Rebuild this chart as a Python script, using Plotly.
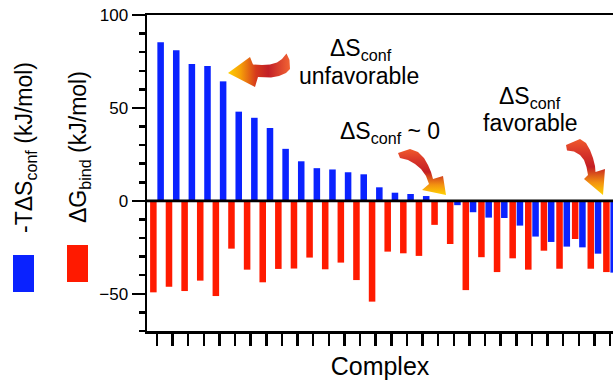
import plotly.graph_objects as go

# ---------------- data ----------------
complexes = list(range(30))
dg_bind = [-49.2, -46.2, -48.5, -42.9, -51.2, -25.7, -37.0, -43.8, -36.6, -36.4,
           -30.5, -36.8, -33.2, -42.6, -54.2, -27.3, -28.2, -29.6, -12.9, -23.2,
           -48.0, -30.3, -38.3, -30.9, -37.0, -26.8, -36.5, -20.5, -36.5, -38.3]
tds_conf = [85.3, 81.0, 73.6, 72.5, 64.3, 48.0, 44.7, 39.2, 28.0, 21.3,
            17.6, 16.9, 15.4, 14.3, 7.3, 4.4, 3.7, 2.6, 0.0, -2.3,
            -6.1, -9.0, -9.2, -13.3, -19.2, -22.1, -24.6, -25.0, -28.4, -38.6]
y_ticks = [-50, 0, 50, 100]

RED = "#ff1a00"
BLUE = "#0a22ff"
FONT = "Liberation Sans, Arial, Helvetica, sans-serif"

W, H = 613, 382
L, R, T, B = 147, 0, 15, 51
PW, PH = W - L - R, H - T - B


def px(x):
    return (x - L) / PW


def py(y):
    return (H - B - y) / PH


fig = go.Figure()
fig.add_trace(go.Bar(x=complexes, y=dg_bind, marker=dict(color=RED, line_width=0),
                     name="dG", hoverinfo="skip"))
fig.add_trace(go.Bar(x=complexes, y=tds_conf, marker=dict(color=BLUE, line_width=0),
                     name="TdS", hoverinfo="skip"))

# ---------------- curved gradient arrows (decoration, pixel frame) ----------------
arrow1 = [(228, 73), (250, 57), (253, 64.5), (262, 65), (270, 64.5), (277, 62.5),
          (282, 59), (285, 55.5), (286.5, 53.5), (289.5, 60), (290, 69), (286, 73),
          (279, 76), (271, 77.5), (262, 77.5), (258, 77), (255, 87), (228, 73)]
arrow2 = [(398, 153), (410, 149), (418, 152), (424, 158), (428, 165), (431, 172),
          (433, 179), (443, 176), (446, 195), (422, 190), (429, 184), (426, 176),
          (421, 169), (415, 164), (408, 160), (400, 158), (398, 153)]
arrow3 = [(566, 145), (580, 139), (586, 143), (590, 150), (593, 158), (595, 166),
          (595.5, 172), (605, 169), (603, 195), (584, 179), (588, 175),
          (586.5, 167), (584, 160), (580, 155), (574, 151.5), (567, 150.5), (566, 145)]

cs_h = [[0, "#ffd000"], [0.2, "#f6a008"], [0.45, "#d63a1c"], [0.65, "#c21f26"],
        [1, "#f26434"]]
cs_v = [[0, "#ffd400"], [0.22, "#f39210"], [0.5, "#c41e24"], [0.75, "#d8362a"],
        [1, "#f05a2c"]]

for pts, gtype, cs in [(arrow1, "horizontal", cs_h), (arrow2, "vertical", cs_v),
                       (arrow3, "vertical", cs_v)]:
    fig.add_trace(go.Scatter(
        x=[p[0] for p in pts], y=[-p[1] for p in pts], xaxis="x2", yaxis="y2",
        mode="lines", line=dict(width=0, color="rgba(0,0,0,0)"), fill="toself",
        fillgradient=dict(type=gtype, colorscale=cs), hoverinfo="skip",
        showlegend=False))

fig.update_layout(
    width=W, height=H,
    margin=dict(l=L, r=R, t=T, b=B, pad=0),
    paper_bgcolor="white", plot_bgcolor="white",
    showlegend=False,
    barmode="group", bargap=0.07, bargroupgap=0.1,
    font=dict(family=FONT, color="black"),
    xaxis=dict(
        range=[-0.64, 29.19], tickvals=complexes, showticklabels=False,
        ticks="outside", ticklen=12, tickwidth=2.5, tickcolor="black",
        showline=True, linewidth=2.5, linecolor="black", mirror=True,
        showgrid=False, zeroline=False,
        title=dict(text="Complex", font=dict(size=25, family=FONT), standoff=13),
    ),
    yaxis=dict(
        range=[-70, 100], tickvals=y_ticks,
        ticks="outside", ticklen=13, tickwidth=2.5, tickcolor="black",
        tickfont=dict(size=17, family=FONT),
        minor=dict(dtick=10, tick0=0, ticks="outside", ticklen=6, tickwidth=2.5,
                   tickcolor="black", showgrid=False),
        showline=True, linewidth=2.5, linecolor="black",
        showgrid=False, zeroline=False,
    ),
    xaxis2=dict(overlaying="x", anchor="y2", range=[L, W - R], visible=False,
                fixedrange=True),
    yaxis2=dict(overlaying="y", anchor="x2", range=[-(H - B), -T], visible=False,
                fixedrange=True),
)

# zero line
fig.add_shape(type="line", xref="paper", yref="y", x0=0, x1=1, y0=0, y1=0,
              line=dict(color="black", width=2.7), layer="above")

# legend boxes
fig.add_shape(type="rect", xref="paper", yref="paper", x0=px(13), x1=px(34),
              y0=py(292), y1=py(255), fillcolor=BLUE, line_width=0)
fig.add_shape(type="rect", xref="paper", yref="paper", x0=px(67), x1=px(88),
              y0=py(282), y1=py(245), fillcolor=RED, line_width=0)

annos = [
    ("-TΔS<sub>conf</sub> (kJ/mol)", 25, 147, -90),
    ("ΔG<sub>bind</sub> (kJ/mol)", 79, 147, -90),
    ("ΔS<sub>conf</sub>", 361, 49, 0),
    ("unfavorable", 359, 76, 0),
    ("ΔS<sub>conf</sub> ~ 0", 390, 132, 0),
    ("ΔS<sub>conf</sub>", 530, 98, 0),
    ("favorable", 530, 123, 0),
]
for text, ax_, ay_, ang in annos:
    fig.add_annotation(text=text, xref="paper", yref="paper", x=px(ax_), y=py(ay_),
                       xanchor="center", yanchor="middle", showarrow=False,
                       textangle=ang, font=dict(size=23, family=FONT, color="black"))

fig.write_html(
    "out.html",
    config={"displayModeBar": False, "staticPlot": True},
    post_script="document.body.style.margin='0';document.body.style.overflow='hidden';",
)
